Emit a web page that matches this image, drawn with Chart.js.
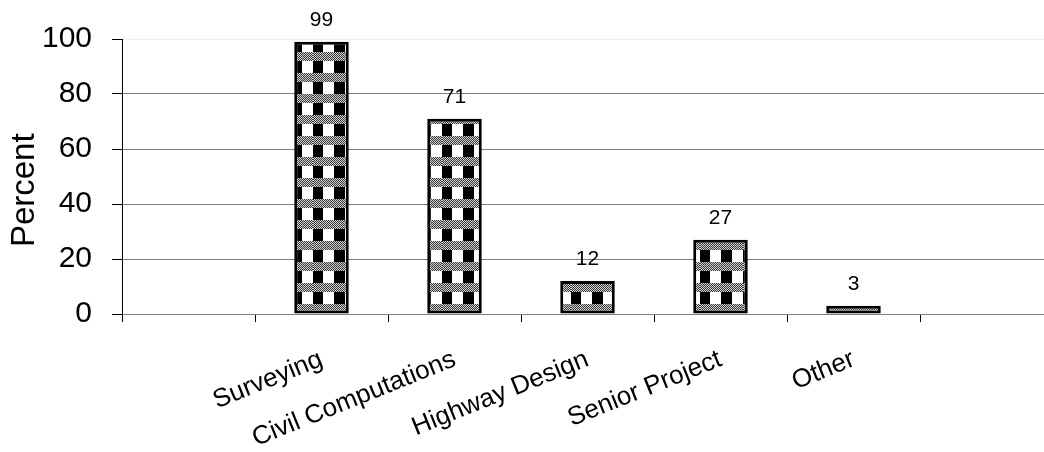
<!DOCTYPE html>
<html lang="en">
<head>
    <meta charset="UTF-8">
    <title>Percent by course</title>
    <script src="https://cdn.jsdelivr.net/npm/chart.js"></script>
    <style>
        html, body { margin: 0; padding: 0; background: #fff; overflow: hidden; }
        #wrap { width: 1060px; height: 452px; position: relative; }
    </style>
</head>
<body>
    <div id="wrap"><canvas id="myChart"></canvas></div>
    <script>
        // chart values (empty slot at each end, like the original)
        const categories = ['', 'Surveying', 'Civil Computations', 'Highway Design', 'Senior Project', 'Other', ''];
        const percents = [null, 99, 71, 12, 27, 3, null];
        const yTickLabels = [0, 20, 40, 60, 80, 100];

        const FONT = '"Liberation Sans", Arial, sans-serif';

        // black/white checks with grey dotted bands, like the old Excel fill
        function makePattern(ctx) {
            const c = document.createElement('canvas');
            c.width = 43;
            c.height = 42;
            const g = c.getContext('2d');
            g.fillStyle = '#fff';
            g.fillRect(0, 0, 43, 42);
            g.fillStyle = '#000';
            g.fillRect(0, 0, 10, 42);
            g.fillRect(21, 0, 11, 42);
            const bands = [[0, 9], [21, 30]];
            bands.forEach(([y0, y1]) => {
                for (let y = y0; y < y1; y++) {
                    for (let x = 0; x < 43; x++) {
                        g.fillStyle = (x + y) % 2 ? '#3a3a3a' : '#cfcfcf';
                        g.fillRect(x, y, 1, 1);
                    }
                }
            });
            const p = ctx.createPattern(c, 'repeat');
            p.setTransform(new DOMMatrix([1, 0, 0, 1, 12, 10]));
            return p;
        }

        const valueLabels = {
            id: 'valueLabels',
            afterDatasetsDraw(chart) {
                const ctx = chart.ctx;
                const meta = chart.getDatasetMeta(0);
                ctx.save();
                ctx.font = '21px ' + FONT;
                ctx.fillStyle = '#000';
                ctx.textAlign = 'center';
                ctx.textBaseline = 'alphabetic';
                meta.data.forEach((bar, i) => {
                    if (percents[i] == null) return;
                    ctx.fillText(String(percents[i]), bar.x, bar.y - 16);
                });
                ctx.restore();
            }
        };

        const ctx = document.getElementById('myChart').getContext('2d');
        const myChart = new Chart(ctx, {
            type: 'bar',
            data: {
                labels: categories,
                datasets: [{
                    data: percents,
                    backgroundColor: makePattern(ctx),
                    borderColor: '#000',
                    borderWidth: 3,
                    borderSkipped: false,
                    categoryPercentage: 1,
                    barPercentage: 0.41
                }]
            },
            options: {
                responsive: true,
                maintainAspectRatio: false,
                animation: false,
                layout: { padding: { top: 39, right: 7, left: 0, bottom: 0 } },
                plugins: {
                    legend: { display: false },
                    tooltip: { enabled: false }
                },
                scales: {
                    x: {
                        offset: true,
                        grid: {
                            drawOnChartArea: false,
                            tickLength: 8,
                            tickColor: '#000',
                            offset: true
                        },
                        border: { color: '#808080', width: 1 },
                        ticks: {
                            autoSkip: false,
                            minRotation: 22,
                            maxRotation: 22,
                            padding: 22,
                            color: '#000',
                            font: { family: FONT, size: 26 }
                        },
                        afterFit: axis => { axis.height = 138; }
                    },
                    y: {
                        min: 0,
                        max: 100,
                        ticks: {
                            stepSize: 10,
                            padding: 20,
                            color: '#000',
                            font: { family: FONT, size: 30 },
                            callback: v => yTickLabels.includes(v) ? v : ''
                        },
                        grid: {
                            tickLength: 10,
                            tickColor: '#000',
                            color: c => {
                                const v = c.tick ? c.tick.value : 0;
                                if (v === 100) return '#ececec';
                                if (v > 0 && v % 20 === 0) return '#7a7a7a';
                                return 'rgba(0,0,0,0)';
                            }
                        },
                        border: { color: '#000', width: 1 },
                        title: {
                            display: true,
                            text: 'Percent   ',
                            color: '#000',
                            font: { family: FONT, size: 33 },
                            padding: { top: 5, bottom: 0 }
                        },
                        afterFit: axis => { axis.width = 122; }
                    }
                }
            },
            plugins: [valueLabels]
        });
    </script>
</body>
</html>
